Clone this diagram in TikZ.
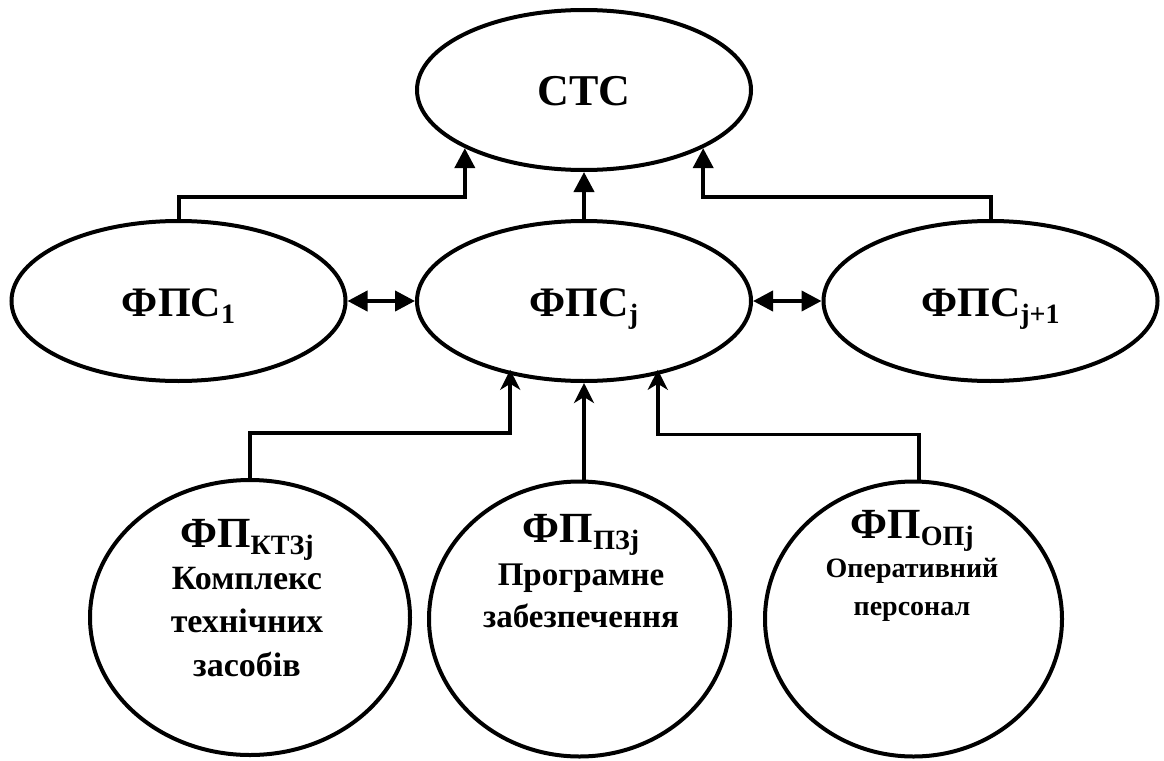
\documentclass[tikz,border=0pt]{standalone}
\usepackage{fontspec}
\setmainfont{Liberation Serif}
\usetikzlibrary{arrows.meta,shapes.geometric}
% lowered subscript in a smaller size
\newcommand\lowsub[2][-7pt]{\raisebox{#1}{\fontsize{28}{28}\selectfont #2}}

\begin{document}
\begin{tikzpicture}[x=1pt,y=-1pt,
  oval/.style={ellipse, draw, line width=4pt, inner sep=0pt,
    minimum width=334pt, minimum height=160pt,
    font=\fontsize{42}{42}\selectfont\bfseries, text height=31pt, text depth=0pt},
  ball/.style={ellipse, draw, line width=4pt, inner sep=0pt, minimum height=275pt},
  link/.style={line width=4pt},
  up/.style={link, -{Triangle[length=20pt,width=20pt]}},
  both/.style={link, {Triangle[length=20pt,width=20pt]}-{Triangle[length=20pt,width=20pt]}},
  feed/.style={line width=3.5pt, -{Stealth[length=20pt,width=20pt,inset=6pt]}},
  head/.style={anchor=base, font=\fontsize{43}{43}\selectfont\bfseries},
  body/.style={anchor=base, font=\fontsize{34}{34}\selectfont\bfseries},
]
\useasboundingbox (0,0) rectangle (1164,760);

% upper level
\node[oval, font=\fontsize{44}{44}\selectfont\bfseries] (sts) at (584,90) {СТС};
\node[oval] (f1) at (178.5,301) {ФПС\lowsub{1}};
\node[oval] (fj) at (584,301) {ФПС\lowsub{j}};
\node[oval] (fk) at (990.5,301) {ФПС\lowsub{j+1}};

% lower level
\node[ball, minimum width=320pt] (c1) at (250,617.5) {};
\node[ball, minimum width=301pt] (c2) at (579.5,619) {};
\node[ball, minimum width=297pt] (c3) at (913.5,619) {};

\node[head] (c1a) at (247,547) {ФП\lowsub{КТЗj}};
\node[body] (c1b) at (247,589) {Комплекс};
\node[body] (c1c) at (247,632) {технічних};
\node[body] (c1d) at (247,676) {засобів};

\node[head] (c2a) at (581,542) {ФП\lowsub{ПЗj}};
\node[body, font=\fontsize{33}{33}\selectfont\bfseries] (c2b) at (581,585) {Програмне};
\node[body, font=\fontsize{33}{33}\selectfont\bfseries] (c2c) at (581,627) {забезпечення};

\node[head] (c3a) at (912,538) {ФП\lowsub{ОПj}};
\node[body, font=\fontsize{28}{28}\selectfont\bfseries] (c3b) at (912,577) {Оперативний};
\node[body, font=\fontsize{28}{28}\selectfont\bfseries] (c3c) at (912,615) {персонал};

% connectors to the system level
\draw[up] (f1.north) -- ++(0,-22) -| (sts.206);
\draw[up] (fj.north) -- (sts.south);
\draw[up] (fk.north) -- ++(0,-22) -| (sts.334);
\draw[both] (f1.east) -- (fj.west);
\draw[both] (fj.east) -- (fk.west);

% connectors from the components
\draw[feed, shorten >=-5pt] (c1.north) -- ++(0,-45) -| (fj.225.5);
\draw[feed] (fj.south |- c2.north) -- (fj.south);
\draw[feed, shorten >=-5pt] ([xshift=5.5pt]c3.north) -- ++(0,-45) -| (fj.315.4);
\end{tikzpicture}
\end{document}
